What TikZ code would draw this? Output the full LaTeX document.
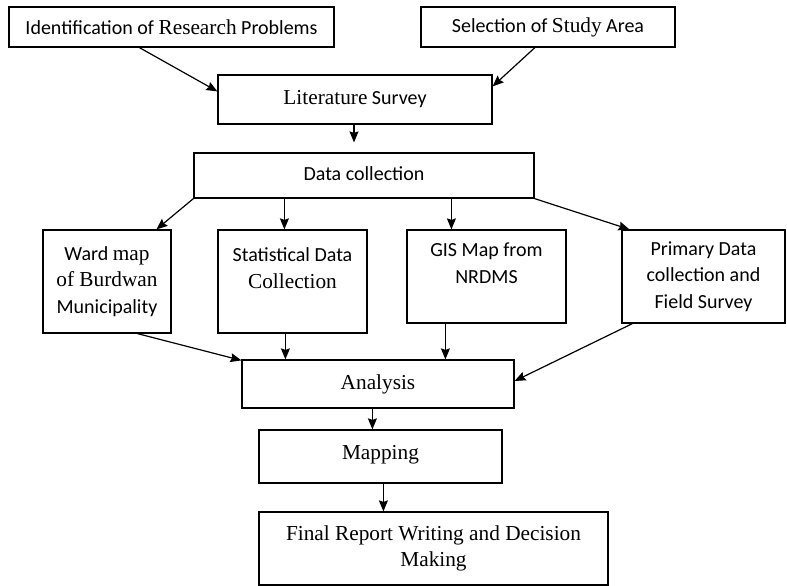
\documentclass[tikz,border=0pt]{standalone}
\usepackage{fontspec}
\setmainfont{Liberation Serif}
\newfontfamily\calib{Carlito}
\newfontfamily\tmsf{Liberation Serif}
\usetikzlibrary{arrows.meta}
\newcommand{\tw}[1]{{\tmsf\fontsize{21.3}{26.5}\selectfont #1}}
\begin{document}
\begin{tikzpicture}[x=1pt,y=-1pt,
  box/.style={draw=black, line width=1.2pt, inner sep=0pt, align=center, text=black,
    font=\fontsize{20}{26.5}\selectfont\calib},
  arr/.style={draw=black, line width=1.2pt, -{Stealth[length=11pt,width=9pt,inset=1.5pt]}}]
\useasboundingbox (0,0) rectangle (787,586);

\node[box, minimum width=325pt, minimum height=40pt] (ident) at (171.5,27) {Identification of \tw{Research} Problems};
\node[box, minimum width=254pt, minimum height=40pt] (select) at (548,27) {Selection of \tw{Study} Area};
\node[box, minimum width=274pt, minimum height=49pt] (lit) at (355,99.5) {\tw{Literature} Survey};
\node[box, minimum width=340pt, minimum height=45pt, text depth=4pt] (data) at (364,175.5) {Data collection};
\node[box, minimum width=128pt, minimum height=103pt] (ward) at (107,281.5) {Ward \tw{map}\\\tw{of Burdwan}\\Municipality};
\node[box, minimum width=149pt, minimum height=103pt] (stat) at (292.5,281.5) {Statistical Data\\\tw{Collection}\\\mbox{}};
\node[box, minimum width=159pt, minimum height=93pt] (gis) at (486.5,276.5) {GIS Map from\\NRDMS\\\mbox{}};
\node[box, minimum width=163pt, minimum height=93pt] (prim) at (703.5,276.5) {Primary Data\\collection and\\Field Survey};
\node[box, minimum width=272pt, minimum height=48pt] (anal) at (378,384) {\tw{Analysis}};
\node[box, minimum width=243pt, minimum height=53pt, text depth=9pt] (map) at (380.5,456.5) {\tw{Mapping}};
\node[box, minimum width=349pt, minimum height=73pt] (final) at (433.5,548.5) {\tw{Final Report Writing and Decision}\\\tw{Making}};

\draw[arr] ([xshift=131pt]ident.south west) -- ([yshift=-17pt]lit.north west);
\draw[arr] ([xshift=114.5pt]select.south west) -- ([yshift=-12pt]lit.north east);
\draw[arr, shorten >=10pt] ([xshift=-1pt]lit.south) -- ([xshift=-1pt]lit.south |- data.north);
\draw[arr] (data.south west) -- ([xshift=114pt]ward.north west);
\coordinate (sx) at ([xshift=67pt]stat.north west);
\draw[arr] (sx |- data.south) -- (sx);
\coordinate (gx) at ([xshift=45pt]gis.north west);
\draw[arr] (gx |- data.south) -- (gx);
\draw[arr] (data.south east) -- ([xshift=8pt]prim.north west);
\draw[arr] ([xshift=95pt]ward.south west) -- ([yshift=-1pt]anal.north west);
\coordinate (sx2) at ([xshift=68pt]stat.south west);
\draw[arr] (sx2) -- (sx2 |- anal.north);
\coordinate (gx2) at ([xshift=39pt]gis.south west);
\draw[arr] (gx2) -- (gx2 |- anal.north);
\draw[arr] ([xshift=11pt]prim.south west) -- ([yshift=3pt]anal.east);
\coordinate (ax) at ([xshift=131pt]anal.south west);
\draw[arr] (ax) -- (ax |- map.north);
\coordinate (mx) at ([xshift=125pt]map.south west);
\draw[arr] (mx) -- (mx |- final.north);
\end{tikzpicture}
\end{document}
